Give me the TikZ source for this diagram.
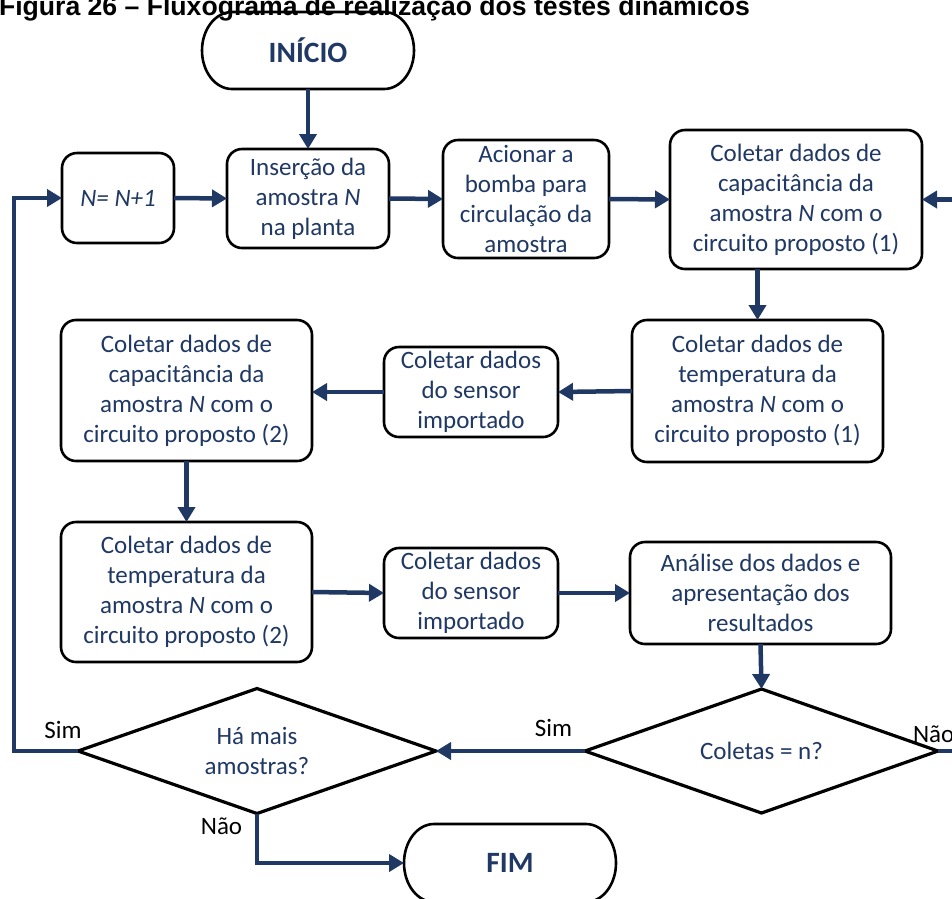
\documentclass[tikz,border=0pt]{standalone}
\usepackage{fontspec}
\setmainfont{Carlito}
\newfontfamily\titlefont{Liberation Sans}
\usetikzlibrary{arrows.meta,shapes.geometric}
\definecolor{navy}{RGB}{31,56,100}
\tikzset{
  every node/.style={inner sep=0pt, outer sep=0pt},
  flowbox/.style={draw=black, line width=2.6pt, rounded corners=15pt, text=navy,
    align=center, font=\fontsize{25}{30}\selectfont},
  decision/.style={diamond, shape aspect=2.86, draw=black, line width=3.2pt, text=navy,
    align=center, font=\fontsize{25}{30}\selectfont},
  terminal/.style={text=navy, font=\bfseries\fontsize{29.5}{34}\selectfont},
  pill/.style={draw=black, line width=2.6pt},
  flowarrow/.style={draw=navy, line width=4.5pt, -{Triangle[length=15pt,width=17pt]}},
  answer/.style={text=black, font=\fontsize{25}{30}\selectfont, anchor=base},
}
\newcommand{\pillshape}[2]{% node name, end radius
  \draw[pill] ([xshift=#2]#1.north west) -- ([xshift=-#2]#1.north east)
    arc[start angle=90, end angle=-90, x radius=#2, y radius=0.5*\pillh]
    -- ([xshift=#2]#1.south west)
    arc[start angle=270, end angle=90, x radius=#2, y radius=0.5*\pillh] -- cycle;}
\begin{document}
\begin{tikzpicture}[x=1pt,y=-1pt]
\useasboundingbox (0,0) rectangle (952,898);
\fill[white] (0,0) rectangle (952,898);
\clip (0,0) rectangle (952,898);

% caption
\node[anchor=base west, font=\titlefont\bfseries\fontsize{26.6}{30}\selectfont]
  (title) at (-1,15.5) {Figura 26 – Fluxograma de realização dos testes dinâmicos};

% terminals
\node[terminal, minimum width=212pt, minimum height=77pt] (start) at (308,50.5) {INÍCIO};
\def\pillh{77pt}\pillshape{start}{30pt}
\node[terminal, minimum width=212pt, minimum height=78pt] (fim) at (510,863) {FIM};
\def\pillh{78pt}\pillshape{fim}{30pt}

% process boxes
\node[flowbox, minimum width=112pt, minimum height=90pt] (inc) at (118,198)
  {\itshape N= N+1};
\node[flowbox, minimum width=162pt, minimum height=99pt] (ins) at (308,198.5)
  {Inserção da\\amostra \textit{N}\\na planta};
\node[flowbox, minimum width=166pt, minimum height=118pt] (acion) at (526,199)
  {Acionar a\\bomba para\\circulação da\\amostra};
\node[flowbox, minimum width=252pt, minimum height=139pt] (cap1) at (796,199.5)
  {Coletar dados de\\capacitância da\\amostra \textit{N} com o\\circuito proposto (1)};
\node[flowbox, minimum width=251pt, minimum height=142pt] (temp1) at (757.5,391)
  {Coletar dados de\\temperatura da\\amostra \textit{N} com o\\circuito proposto (1)};
\node[flowbox, minimum width=174pt, minimum height=90pt] (sens1) at (471,392)
  {Coletar dados\\do sensor\\importado};
\node[flowbox, minimum width=251pt, minimum height=141pt] (cap2) at (186.5,390.5)
  {Coletar dados de\\capacitância da\\amostra \textit{N} com o\\circuito proposto (2)};
\node[flowbox, minimum width=251pt, minimum height=140pt] (temp2) at (186.5,592)
  {Coletar dados de\\temperatura da\\amostra \textit{N} com o\\circuito proposto (2)};
\node[flowbox, minimum width=174pt, minimum height=90pt] (sens2) at (471,593)
  {Coletar dados\\do sensor\\importado};
\node[flowbox, minimum width=261pt, minimum height=102pt] (anal) at (760.5,593)
  {Análise dos dados e\\apresentação dos\\resultados};

% decisions
\node[decision, minimum width=353pt, minimum height=124pt] (dec2) at (761.5,751)
  {Coletas = n?};
\node[decision, minimum width=358pt, minimum height=125pt] (dec1) at (257,751)
  {Há mais\\amostras?};

% loop-back corner
\coordinate (loopL) at (14,751);

% connectors
\draw[flowarrow] (start.south) -- (ins.north);
\draw[flowarrow] (inc.east) -- (ins.west);
\draw[flowarrow] (ins.east) -- (acion.west);
\draw[flowarrow] (acion.east) -- (cap1.west);
\draw[flowarrow] (cap1.south -| temp1.north) -- (temp1.north);
\draw[flowarrow] (temp1.west) -- (sens1.east);
\draw[flowarrow] (sens1.west) -- (sens1.west -| cap2.east);
\draw[flowarrow] (cap2.south) -- (temp2.north);
\draw[flowarrow] (temp2.east) -- (sens2.west);
\draw[flowarrow] (sens2.east) -- (anal.west);
\draw[flowarrow] (anal.south) -- (dec2.north);
\draw[flowarrow] (dec2.west) -- (dec1.east);
\draw[flowarrow] (dec2.east) -- ++(40,0) |- (cap1.east);
\draw[flowarrow] (dec1.west) -- (loopL) |- (inc.west);
\draw[flowarrow] (dec1.south) |- (fim.west);

% answers
\node[answer] (simL) at (63,738) {Sim};
\node[answer] (simR) at (553.5,736) {Sim};
\node[answer] (naoB) at (221.5,834) {Não};
\node[answer, anchor=base west] (naoR) at (913,742) {Não};
\end{tikzpicture}
\end{document}
